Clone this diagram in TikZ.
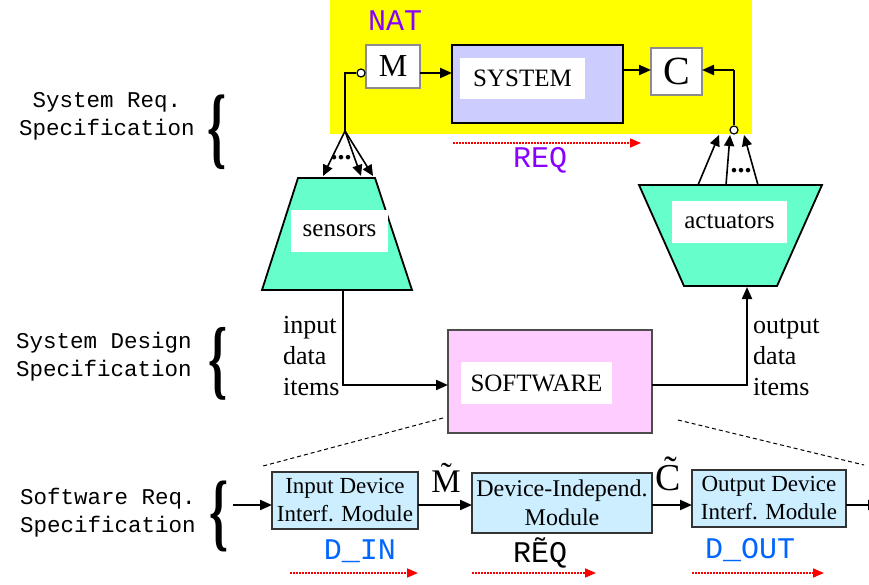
\documentclass[tikz,border=0pt]{standalone}
\usepackage{fontspec}
\usepackage{graphicx}
\setmainfont{Liberation Serif}
\setmonofont{Liberation Mono}
\usetikzlibrary{arrows.meta}
\definecolor{natyellow}{RGB}{255,255,0}
\definecolor{lav}{RGB}{204,204,255}
\definecolor{aqua}{RGB}{102,255,204}
\definecolor{pinkbox}{RGB}{255,204,255}
\definecolor{lblue}{RGB}{204,238,255}
\definecolor{purp}{RGB}{136,0,255}
\definecolor{dblue}{RGB}{0,102,255}
\definecolor{graybd}{RGB}{140,140,140}
\tikzset{
  blk/.style={anchor=north west, inner sep=0pt, outer sep=0pt},
  conn/.style={line width=2pt, -{Triangle[length=12pt,width=10pt]}},
  fan/.style={line width=1.6pt, -{Triangle[length=11pt,width=10pt]}},
  plain/.style={line width=2pt},
  reqarrow/.style={red, line width=1.6pt, dash pattern=on 2pt off 1pt, -{Triangle[length=11pt,width=9pt]}},
  lbl/.style={font=\ttfamily\fontsize{22.5}{28}\selectfont, align=center},
  monolbl/.style={font=\ttfamily\fontsize{30}{30}\selectfont, inner sep=0pt},
  bracenode/.style={inner sep=0pt, font=\fontsize{44}{44}\selectfont\bfseries},
  modbox/.style={blk, fill=lblue, draw=black!80, line width=1.2pt, align=center, font=\fontsize{23}{28}\selectfont},
  whitebox/.style={blk, fill=white, font=\fontsize{25}{25}\selectfont},
  circ/.style={circle, draw=black, fill=white, line width=1.2pt, minimum size=8pt, inner sep=0pt},
  serif26/.style={font=\fontsize{26}{31}\selectfont, align=left, inner sep=0pt},
  dots/.style={font=\fontsize{28}{28}\selectfont\bfseries, inner sep=0pt}
}
\begin{document}
\begin{tikzpicture}[x=1pt,y=-1pt]
\useasboundingbox (0,0) rectangle (869,585);
% NAT area
\node[blk, fill=natyellow, minimum width=422pt, minimum height=134pt] (nat) at (330,0) {};
\node[monolbl, text=purp] (natlbl) at (395,21) {NAT};
\node[blk, fill=white, draw=graybd, line width=1.2pt, minimum width=54pt, minimum height=43pt, font=\fontsize{32}{32}\selectfont] (mbox) at (366,45) {M};
\node[blk, fill=lav, draw=black, line width=1.5pt, minimum width=171pt, minimum height=78pt] (sysbox) at (452,45) {};
\node[whitebox, minimum width=125pt, minimum height=41pt] (syswhite) at (460,58) {SYSTEM};
\node[blk, fill=white, draw=graybd, line width=1.2pt, minimum width=51pt, minimum height=47pt, font=\fontsize{40}{40}\selectfont] (cbox) at (651,48) {C};
\draw[conn] (mbox.east |- 0,73) -- (sysbox.west |- 0,73);
\draw[conn] (sysbox.east |- 0,70) -- (cbox.west |- 0,70);
% sensor side
\node[circ] (mcirc) at (361,73) {};
\coordinate (sj) at (345,73);
\coordinate (sf) at (345,131);
\draw[plain] (mcirc.west) -- (sj) -- (sf);
\coordinate (st1) at (323,176);
\coordinate (st2) at (361,176);
\coordinate (st3) at (373,176);
\draw[fan] (sf) -- (st1);
\draw[fan] (sf) -- (st2);
\draw[fan] (sf) -- (st3);
\node[dots] (sdots) at (341,158) {...};
% sensors trapezoid
\coordinate (s1) at (298,178);
\coordinate (s2) at (375,178);
\coordinate (s3) at (412,290);
\coordinate (s4) at (262,290);
\filldraw[fill=aqua, draw=black, line width=1.8pt] (s1) -- (s2) -- (s3) -- (s4) -- cycle;
\node[whitebox, minimum width=97pt, minimum height=42pt] (senswhite) at (291,210) {sensors};
% actuator side
\node[circ] (ccirc) at (734,130) {};
\coordinate (cj) at (734,70);
\draw[plain] (ccirc.north) -- (cj);
\draw[conn] (cj) -- (cbox.east |- cj);
\coordinate (a1) at (639,185);
\coordinate (a2) at (822,185);
\coordinate (a3) at (777,286);
\coordinate (a4) at (684,286);
\coordinate (ab1) at (698,185);
\coordinate (ab2) at (726,185);
\coordinate (ab3) at (758,185);
\coordinate (at1) at (719,135);
\coordinate (at2) at (730,135);
\coordinate (at3) at (744,135);
\draw[fan] (ab1) -- (at1);
\draw[fan] (ab2) -- (at2);
\draw[fan] (ab3) -- (at3);
\node[dots] (adots) at (741,171) {...};
\filldraw[fill=aqua, draw=black, line width=1.8pt] (a1) -- (a2) -- (a3) -- (a4) -- cycle;
\node[whitebox, minimum width=115pt, minimum height=42pt] (actwhite) at (672,201) {actuators};
% REQ
\coordinate (r1) at (453,143);
\coordinate (r2) at (641,143);
\draw[reqarrow] (r1) -- (r2);
\node[monolbl, text=purp] (reqlbl) at (540,160) {REQ};
% left labels
\node[lbl] (srs) at (107,116) {System Req.\\Specification};
\node[bracenode] (b1) at (217,132) {\scalebox{1.1}[2.05]{\{}};
\node[lbl] (sds) at (104,357) {System Design\\Specification};
\node[bracenode] (b2) at (218,364) {\scalebox{1.1}[2.0]{\{}};
\node[lbl] (swrs) at (108,513) {Software Req.\\Specification};
\node[bracenode] (b3) at (219,516) {\scalebox{1.1}[1.95]{\{}};
% SOFTWARE
\node[blk, fill=pinkbox, draw=black!70, line width=1.2pt, minimum width=204pt, minimum height=103pt] (swbox) at (448,330) {};
\node[whitebox, minimum width=151pt, minimum height=42pt] (swwhite) at (461,362) {SOFTWARE};
\coordinate (sb) at (343,290);
\coordinate (sc) at (343,385);
\draw[conn] (sb) -- (sc) -- (swbox.west |- sc);
\coordinate (oc) at (747,385);
\coordinate (ob) at (747,287);
\draw[conn] (swbox.east |- oc) -- (oc) -- (ob);
\node[serif26, anchor=north west] (intext) at (283,316) {input\\data\\items};
\node[serif26, anchor=north west] (outtext) at (753,319) {output\\data\\items};
% dashed
\coordinate (dl1) at (443,418);
\coordinate (dl2) at (263,466);
\coordinate (dr1) at (678,420);
\coordinate (dr2) at (864,465);
\draw[line width=1pt, dash pattern=on 4pt off 3pt] (dl1) -- (dl2);
\draw[line width=1pt, dash pattern=on 4pt off 3pt] (dr1) -- (dr2);
% bottom modules
\node[modbox, minimum width=146pt, minimum height=57pt] (ibox) at (272,472) {Input Device\\Interf. Module};
\node[modbox, minimum width=180pt, minimum height=60pt, font=\fontsize{24}{29}\selectfont] (dbox) at (472,473) {Device-Independ.\\Module};
\node[modbox, minimum width=154pt, minimum height=57pt] (obox) at (692,470) {Output Device\\Interf. Module};
\coordinate (bin) at (233,505);
\coordinate (bout) at (880,505);
\draw[conn] (bin) -- (ibox.west |- bin);
\draw[conn] (ibox.east |- bin) -- (dbox.west |- bin);
\draw[conn] (dbox.east |- bin) -- (obox.west |- bin);
\draw[conn] (obox.east |- bin) -- (bout);
\node[font=\fontsize{33}{33}\selectfont, inner sep=0pt] (mt) at (446,478) {\~{M}};
\node[font=\fontsize{38}{38}\selectfont, inner sep=0pt] (ct) at (668,474) {\~{C}};
\node[monolbl, text=dblue] (din) at (360,551) {D\_IN};
\node[monolbl, text=black] (reqt) at (540,553) {R\~{E}Q};
\node[monolbl, text=dblue] (dout) at (750,550) {D\_OUT};
\coordinate (q1) at (290,573);
\coordinate (q2) at (418,573);
\coordinate (q3) at (472,573);
\coordinate (q4) at (596,573);
\coordinate (q5) at (692,573);
\coordinate (q6) at (824,573);
\draw[reqarrow] (q1) -- (q2);
\draw[reqarrow] (q3) -- (q4);
\draw[reqarrow] (q5) -- (q6);
\end{tikzpicture}
\end{document}
